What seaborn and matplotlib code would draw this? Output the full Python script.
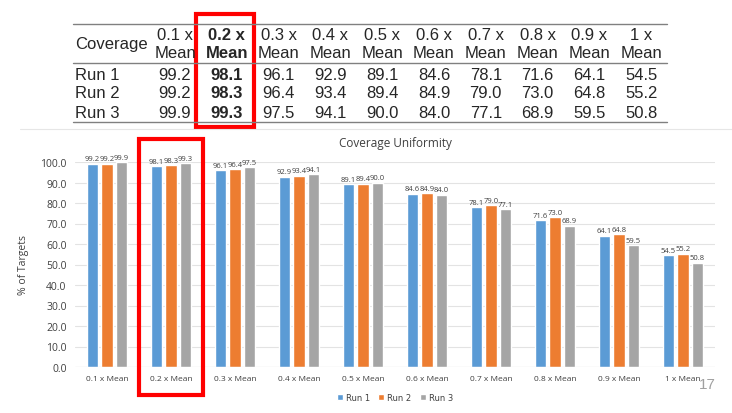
import pandas as pd
import matplotlib.pyplot as plt
import seaborn as sns
from matplotlib.patches import Rectangle
from matplotlib.lines import Line2D

sns.set_theme(style="white")

coverage = ["0.1 x Mean", "0.2 x Mean", "0.3 x Mean", "0.4 x Mean", "0.5 x Mean",
            "0.6 x Mean", "0.7 x Mean", "0.8 x Mean", "0.9 x Mean", "1 x Mean"]
runs = ["Run 1", "Run 2", "Run 3"]
run1 = [99.2, 98.1, 96.1, 92.9, 89.1, 84.6, 78.1, 71.6, 64.1, 54.5]
run2 = [99.2, 98.3, 96.4, 93.4, 89.4, 84.9, 79.0, 73.0, 64.8, 55.2]
run3 = [99.9, 99.3, 97.5, 94.1, 90.0, 84.0, 77.1, 68.9, 59.5, 50.8]
y_ticks = [0, 10, 20, 30, 40, 50, 60, 70, 80, 90, 100]

colors = ["#5B9BD5", "#ED7D31", "#A5A5A5"]

df = pd.DataFrame({
    "Coverage": coverage * 3,
    "Run": [r for r in runs for _ in coverage],
    "Value": run1 + run2 + run3,
})

W, H = 732, 414
fig = plt.figure(figsize=(W / 100, H / 100), dpi=100)
fig.patch.set_facecolor("white")

def fx(px):
    return px / W

def fy(py):
    return 1 - py / H

# ---- table at the top ----
tfont = "Liberation Sans"
col_x = [175 + 51.8 * i for i in range(10)]
head1 = ["0.1 x", "0.2 x", "0.3 x", "0.4 x", "0.5 x", "0.6 x", "0.7 x", "0.8 x", "0.9 x", "1 x"]
fig.text(fx(75), fy(45), "Coverage", family=tfont, fontsize=12, va="center", ha="left")
for i, x in enumerate(col_x):
    w = "bold" if i == 1 else "normal"
    fig.text(fx(x), fy(36), head1[i], family=tfont, fontsize=12, ha="center", va="center", weight=w)
    fig.text(fx(x), fy(54), "Mean", family=tfont, fontsize=12, ha="center", va="center", weight=w)
for r, (name, vals) in enumerate(zip(runs, [run1, run2, run3])):
    yy = fy(75 + 19 * r)
    fig.text(fx(75), yy, name, family=tfont, fontsize=12, ha="left", va="center")
    for i, x in enumerate(col_x):
        w = "bold" if i == 1 else "normal"
        fig.text(fx(x), yy, f"{vals[i]:.1f}", family=tfont, fontsize=12, ha="center", va="center", weight=w)
for ly in [25, 64, 123]:
    fig.add_artist(Line2D([fx(73), fx(667)], [fy(ly), fy(ly)], color="#808080", lw=1.0))

# faint chart frame line
fig.add_artist(Line2D([fx(20), fx(732)], [fy(130), fy(130)], color="#E6E6E6", lw=0.8))

# ---- bar chart ----
ax = fig.add_axes([fx(75), fy(368), fx(715) - fx(75), fy(163) - fy(368)])
sns.barplot(data=df, x="Coverage", y="Value", hue="Run", palette=colors,
            width=0.68, gap=0.18, ax=ax, legend=True, saturation=1)
ax.set_ylim(0, 100)
ax.set_xlim(-0.5, 9.5)
ax.set_yticks(y_ticks)
ax.set_yticklabels([f"{t:.1f}" for t in y_ticks], fontsize=7.5, color="#404040", family="Open Sans")
ax.set_xticks(range(len(coverage)))
ax.set_xticklabels(coverage, fontsize=6, color="#404040", family="Open Sans")
ax.tick_params(axis="both", length=0, pad=6)
ax.set_xlabel("")
ax.set_ylabel("% of Targets", fontsize=7.5, color="#404040", family="Open Sans", labelpad=8)
ax.grid(axis="y", color="#E3E3E3", lw=0.8)
ax.set_axisbelow(True)
for s in ax.spines.values():
    s.set_visible(False)
ax.axhline(0, color="#D0D0D0", lw=0.8)

for cont in ax.containers:
    ax.bar_label(cont, fmt="%.1f", fontsize=5.5, color="#404040", padding=1,
                 family="Open Sans")

ax.legend(loc="upper center", bbox_to_anchor=(0.5, -0.09), ncol=3, frameon=False,
          fontsize=6, handlelength=0.7, handleheight=0.7, columnspacing=1.0,
          handletextpad=0.4, labelcolor="#404040")

fig.text(fx(395), fy(143), "Coverage Uniformity", fontsize=8.5, color="#404040",
         family="Open Sans", ha="center", va="center")

# red highlight boxes
fig.add_artist(Rectangle((fx(196), fy(128)), fx(254) - fx(196), fy(15) - fy(128),
                         fill=False, ec="#FF0000", lw=3))
fig.add_artist(Rectangle((fx(139), fy(396)), fx(203) - fx(139), fy(140) - fy(396),
                         fill=False, ec="#FF0000", lw=3))

# slide page number
fig.text(fx(707), fy(385), "17", fontsize=11, color="#A0A0A0", ha="center", va="center",
         family="Liberation Sans")

fig.savefig("out.png", dpi=100)
